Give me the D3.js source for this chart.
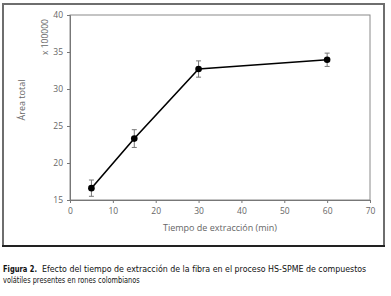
<!DOCTYPE html>
<html lang="es">
<head>
<meta charset="UTF-8">
<title>Tiempo de extracción</title>
<style>
  body { margin: 0; background: #fff; }
  svg { display: block; }
</style>
</head>
<body>
<div id="chart"></div>
<script src="https://d3js.org/d3.v7.min.js"></script>
<script>
  // tiempo (min), área total (x 100000), desviación
  const tiempos = [5, 15, 30, 60];
  const areas = [16.6, 23.3, 32.7, 33.95];
  const errores = [1.1, 1.2, 1.1, 0.9];
  const xTicks = [0, 10, 20, 30, 40, 50, 60, 70];
  const yTicks = [15, 20, 25, 30, 35, 40];

  const width = 391, height = 296;
  const plot = { left: 70, right: 370, top: 15, bottom: 200 };

  const svg = d3.select("#chart").append("svg")
    .attr("width", width)
    .attr("height", height);

  // marco exterior
  svg.append("rect")
    .attr("x", 3).attr("y", 4)
    .attr("width", 381).attr("height", 242)
    .attr("fill", "none")
    .attr("stroke", "#6e6e6e")
    .attr("stroke-width", 2);
  svg.append("line")
    .attr("x1", 2).attr("x2", 385)
    .attr("y1", 246).attr("y2", 246)
    .attr("stroke", "#222")
    .attr("stroke-width", 2);

  const x = d3.scaleLinear().domain([0, 70]).range([plot.left, plot.right]);
  const y = d3.scaleLinear().domain([15, 40]).range([plot.bottom, plot.top]);

  // borde del área de trazado
  svg.append("rect")
    .attr("x", plot.left).attr("y", plot.top)
    .attr("width", plot.right - plot.left).attr("height", plot.bottom - plot.top)
    .attr("fill", "none")
    .attr("stroke", "#8a8a8a")
    .attr("stroke-width", 1);

  const fontAxis = "'Open Sans', 'DejaVu Sans', sans-serif";

  const xAxis = svg.append("g")
    .attr("transform", `translate(0,${plot.bottom})`)
    .call(d3.axisBottom(x).tickValues(xTicks).tickSize(3).tickPadding(5));
  const yAxis = svg.append("g")
    .attr("transform", `translate(${plot.left},0)`)
    .call(d3.axisLeft(y).tickValues(yTicks).tickSize(3).tickPadding(4));

  [xAxis, yAxis].forEach(g => {
    g.select(".domain").attr("stroke", "#777");
    g.selectAll(".tick line").attr("stroke", "#777");
    g.selectAll(".tick text")
      .attr("fill", "#666")
      .style("font-family", fontAxis)
      .style("font-size", "8.5px");
  });

  // títulos de ejes
  svg.append("text")
    .attr("x", 220).attr("y", 231)
    .attr("text-anchor", "middle")
    .attr("fill", "#666")
    .style("font-family", fontAxis)
    .style("font-size", "9px")
    .text("Tiempo de extracción (min)");

  svg.append("text")
    .attr("transform", "translate(25,100) rotate(-90)")
    .attr("text-anchor", "middle")
    .attr("fill", "#666")
    .style("font-family", fontAxis)
    .style("font-size", "9px")
    .text("Área total");

  svg.append("text")
    .attr("transform", "translate(48,37) rotate(-90)")
    .attr("text-anchor", "middle")
    .attr("fill", "#666")
    .style("font-family", fontAxis)
    .style("font-size", "8.5px")
    .text("x 100000");

  const data = tiempos.map((t, i) => ({ t, v: areas[i], e: errores[i] }));

  // barras de error
  const eb = svg.append("g").attr("stroke", "#777").attr("stroke-width", 1);
  data.forEach(d => {
    eb.append("line")
      .attr("x1", x(d.t)).attr("x2", x(d.t))
      .attr("y1", y(d.v + d.e)).attr("y2", y(d.v - d.e));
    [d.v + d.e, d.v - d.e].forEach(v => {
      eb.append("line")
        .attr("x1", x(d.t) - 2.5).attr("x2", x(d.t) + 2.5)
        .attr("y1", y(v)).attr("y2", y(v));
    });
  });

  const line = d3.line().x(d => x(d.t)).y(d => y(d.v));
  svg.append("path")
    .datum(data)
    .attr("d", line)
    .attr("fill", "none")
    .attr("stroke", "#000")
    .attr("stroke-width", 1.6);

  svg.selectAll("circle.pt")
    .data(data)
    .join("circle")
    .attr("class", "pt")
    .attr("cx", d => x(d.t))
    .attr("cy", d => y(d.v))
    .attr("r", 3.3)
    .attr("fill", "#000");

  // pie de figura: texto estrechado con scale() para que ocupe el ancho del original
  const capFont = "'DejaVu Sans Condensed', 'Liberation Sans Narrow', sans-serif";
  const capText = (txt, x0, y0, len, bold) => {
    const t = svg.append("text")
      .attr("x", 0).attr("y", 0)
      .attr("font-weight", bold ? "bold" : "normal")
      .style("font-family", capFont)
      .style("font-size", "9px")
      .attr("fill", "#111")
      .text(txt);
    const w = t.node().getComputedTextLength();
    t.attr("transform", `translate(${x0},${y0}) scale(${len / w},1)`);
  };
  capText("Figura 2.", 3, 272, 34, true);
  capText("Efecto del tiempo de extracción de la fibra en el proceso HS-SPME de compuestos", 42, 272, 325, false);
  capText("volátiles presentes en rones colombianos", 3, 282.5, 137, false);
</script>
</body>
</html>
